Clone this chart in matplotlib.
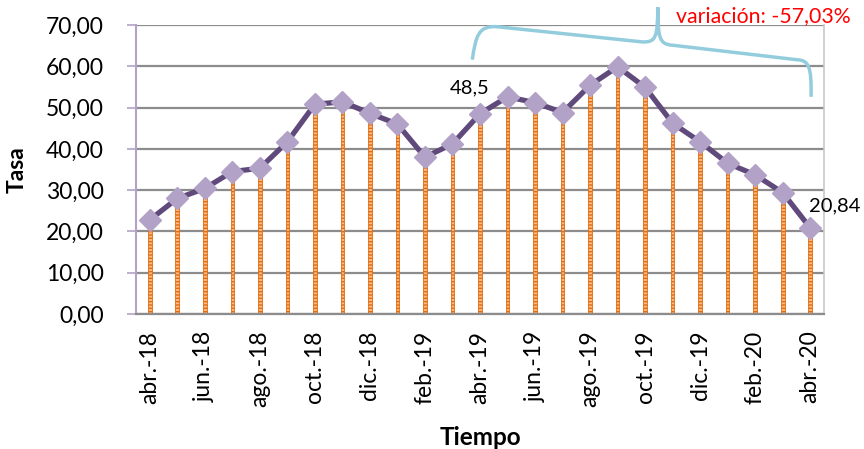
import matplotlib
matplotlib.use("Agg")
import matplotlib.pyplot as plt
from matplotlib.path import Path
from matplotlib.patches import PathPatch
import numpy as np

months = ["abr.-18", "may.-18", "jun.-18", "jul.-18", "ago.-18", "sep.-18", "oct.-18",
          "nov.-18", "dic.-18", "ene.-19", "feb.-19", "mar.-19", "abr.-19", "may.-19",
          "jun.-19", "jul.-19", "ago.-19", "sep.-19", "oct.-19", "nov.-19", "dic.-19",
          "ene.-20", "feb.-20", "mar.-20", "abr.-20"]
tasa = [22.8, 28.0, 30.4, 34.5, 35.3, 41.7, 50.8, 51.4, 48.6, 46.0, 38.0, 41.2,
        48.5, 52.6, 51.2, 48.8, 55.4, 59.9, 54.9, 46.2, 41.7, 36.5, 33.7, 29.4, 20.84]
yticks = [0, 10, 20, 30, 40, 50, 60, 70]
ytick_labels = ["0,00", "10,00", "20,00", "30,00", "40,00", "50,00", "60,00", "70,00"]

plt.rcParams['font.family'] = ['Lato', 'DejaVu Sans']

fig = plt.figure(figsize=(8.64, 4.49), dpi=100)
ax = fig.add_axes([136/864, 1-314/449, (824-136)/864, (314-25)/449])

x = np.arange(len(months))
# drop lines
ax.bar(x, tasa, width=0.13, color='#F7B98A', edgecolor='#E46C0A', hatch='-----',
       linewidth=0.6, zorder=2)
ax.plot(x, tasa, color='#604A7B', linewidth=3.8, zorder=3)
ax.plot(x, tasa, linestyle='none', marker='D', markersize=11.5, color='#B3A2C7', zorder=4)

ax.set_xlim(-0.5, len(months) - 0.5)
ax.set_ylim(0, 70)
ax.set_yticks(yticks)
ax.set_yticklabels(ytick_labels, fontsize=16.5)
ax.set_xticks(x[::2])
ax.set_xticklabels(months[::2], rotation=90, fontsize=16.5)
ax.tick_params(axis='y', length=6.5, width=1.2, color='#B3A2C7', pad=16.5)
ax.tick_params(axis='x', length=0, pad=12)
ax.yaxis.grid(True, color='#8C8C8C', linewidth=1.6, zorder=0)
ax.set_axisbelow(True)
ax.spines['left'].set_color('#B3A2C7')
ax.spines['left'].set_linewidth(1.5)
ax.spines['bottom'].set_color('#8C8C8C')
ax.spines['bottom'].set_linewidth(1.6)
ax.spines['right'].set_color('#C8C8C8')
ax.spines['right'].set_linewidth(1.2)
ax.spines['top'].set_visible(False)

ax.set_ylabel('Tasa', fontsize=16.5, fontweight='bold')
ax.set_xlabel('Tiempo', fontsize=17.5, fontweight='bold')
ax.yaxis.set_label_coords((28 - 136) / 688, 0.5)
ax.xaxis.set_label_coords(0.5, -(426 - 314) / 289)

ax.annotate('48,5', xy=(12, tasa[12]), xytext=(-7.5, 18.7), textcoords='offset points',
            fontsize=14.5, ha='center', va='center')
ax.annotate('20,84', xy=(24, tasa[24]), xytext=(-1, 16), textcoords='offset points',
            fontsize=14.5, ha='left', va='center', annotation_clip=False)

# brace
verts = [(11.72, 61.6),
         (11.85, 67.5), (11.95, 69.8), (12.6, 69.6),
         (17.9, 65.9),
         (18.4, 65.8), (18.45, 67.0), (18.46, 74.3),
         (18.47, 67.0), (18.5, 65.3), (19.0, 65.1),
         (23.5, 61.6),
         (23.95, 61.5), (24.05, 60.0), (24.03, 52.6)]
codes = [Path.MOVETO,
         Path.CURVE4, Path.CURVE4, Path.CURVE4,
         Path.LINETO,
         Path.CURVE4, Path.CURVE4, Path.CURVE4,
         Path.CURVE4, Path.CURVE4, Path.CURVE4,
         Path.LINETO,
         Path.CURVE4, Path.CURVE4, Path.CURVE4]
ax.add_patch(PathPatch(Path(verts, codes), facecolor='none', edgecolor='#93CDDD',
                       linewidth=2.5, clip_on=False, zorder=5))
fig.text(763/864, 1-16/449, 'variación: -57,03%', color='#FF0000', fontsize=15.3,
         ha='center', va='center')

fig.savefig('out.png', dpi=100)
